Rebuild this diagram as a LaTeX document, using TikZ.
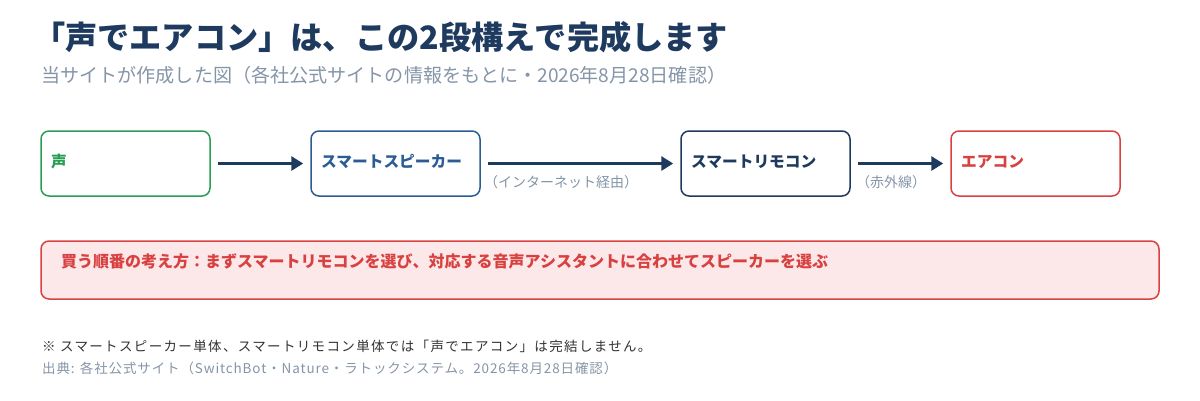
\documentclass[tikz,border=0pt]{standalone}
\usepackage{fontspec}
\setmainfont{Noto Sans CJK JP}
\usetikzlibrary{arrows.meta}
\definecolor{navy}{HTML}{1F3A5F}
\definecolor{subgray}{HTML}{8595A7}
\definecolor{vgreen}{HTML}{2A9D55}
\definecolor{vblue}{HTML}{2B5D94}
\definecolor{vred}{HTML}{D94141}
\definecolor{pinkfill}{HTML}{FCE8E8}
\definecolor{darktext}{HTML}{333333}
\tikzset{
  flowbox/.style={draw, line width=1.5pt, rounded corners=8pt, minimum width=169pt, minimum height=65pt, inner sep=0pt},
  boxlabel/.style={anchor=west, inner sep=0pt, font=\fontsize{15.7}{18}\selectfont\bfseries},
  flowarrow/.style={draw=navy, line width=3pt, -{Triangle[length=12pt,width=14pt]}, shorten <=7.5pt, shorten >=7pt},
  arrowlabel/.style={anchor=north west, inner sep=0pt, text=subgray, font=\fontsize{14}{16}\selectfont},
}
\begin{document}
\begin{tikzpicture}[x=1pt,y=-1pt]
\useasboundingbox (0,0) rectangle (1200,400);
% title
\node[anchor=west, inner sep=0pt, text=navy, font=\fontsize{32.2}{36}\selectfont\bfseries] (title) at (33,37) {「声でエアコン」は、この2段構えで完成します};
\node[anchor=west, inner sep=0pt, text=subgray, font=\fontsize{19.1}{22}\selectfont] (subtitle) at (41,75.5) {当サイトが作成した図（各社公式サイトの情報をもとに・2026年8月28日確認）};
% boxes
\node[flowbox, draw=vgreen] (b1) at (125.5,163.5) {};
\node[flowbox, draw=vblue] (b2) at (395.5,163.5) {};
\node[flowbox, draw=navy] (b3) at (765.5,163.5) {};
\node[flowbox, draw=vred] (b4) at (1035.5,163.5) {};
\node[boxlabel, text=vgreen] (l1) at (51,161.5) {声};
\node[boxlabel, text=vblue] (l2) at (321,161.5) {スマートスピーカー};
\node[boxlabel, text=navy] (l3) at (691,161.5) {スマートリモコン};
\node[boxlabel, text=vred] (l4) at (961,161.5) {エアコン};
% arrows
\draw[flowarrow] (b1) -- (b2);
\draw[flowarrow] (b2) -- (b3);
\draw[flowarrow] (b3) -- (b4);
\node[arrowlabel] (al2) at (484,175) {（インターネット経由）};
\node[arrowlabel] (al3) at (856,175) {（赤外線）};
% note box
\node[draw=vred, fill=pinkfill, line width=1.5pt, rounded corners=8pt, minimum width=1118pt, minimum height=58pt, inner sep=0pt] (note) at (600,270) {};
\node[anchor=west, inner sep=0pt, text=vred, font=\fontsize{16}{18}\selectfont\bfseries] (notetext) at (61,261) {買う順番の考え方：まずスマートリモコンを選び、対応する音声アシスタントに合わせてスピーカーを選ぶ};
% footnotes
\node[anchor=west, inner sep=0pt, text=darktext, font=\fontsize{13.5}{15}\selectfont\addfontfeature{LetterSpace=10}] (fn1) at (42,346) {※ スマートスピーカー単体、スマートリモコン単体では「声でエアコン」は完結しません。};
\node[anchor=west, inner sep=0pt, text=subgray, font=\fontsize{13.5}{15}\selectfont\addfontfeature{LetterSpace=6.5}] (fn2) at (42,368) {出典: 各社公式サイト（SwitchBot・Nature・ラトックシステム。2026年8月28日確認）};
\end{tikzpicture}
\end{document}
